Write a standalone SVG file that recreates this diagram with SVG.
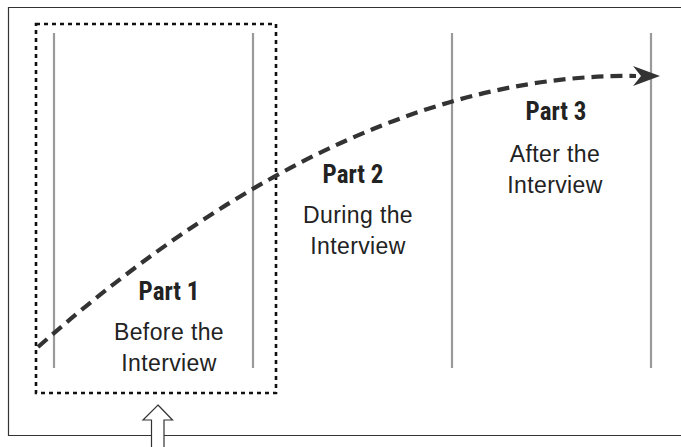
<svg xmlns="http://www.w3.org/2000/svg" width="681" height="447" viewBox="0 0 681 447">
<defs>
<style>
.frame{fill:none;stroke:#333;stroke-width:1.2}
.sel{fill:none;stroke:#111;stroke-width:2.6;stroke-dasharray:4 4}
.div{stroke:#9a9a9a;stroke-width:2.2}
.flow{fill:none;stroke:#333;stroke-width:4.2;stroke-dasharray:12 7}
.title{font-family:"Liberation Sans Narrow","Roboto Condensed","Liberation Sans",sans-serif;font-weight:bold;font-size:25px;fill:#222;text-anchor:middle}
.body{font-family:"Liberation Sans",Arial,sans-serif;font-size:23px;letter-spacing:0.4px;fill:#222;text-anchor:middle}
</style>
</defs>
<rect width="681" height="447" fill="#fff"/>
<path class="frame" d="M690,7.5 H8.5 V435.5 H690"/>
<g id="dividers">
<line class="div" x1="54" y1="33" x2="54" y2="368"/>
<line class="div" x1="253" y1="33" x2="253" y2="368"/>
<line class="div" x1="452" y1="33" x2="452" y2="368"/>
<line class="div" x1="651" y1="33" x2="651" y2="368"/>
</g>
<g id="selection">
<rect class="sel" x="36" y="24" width="240" height="369"/>
</g>
<g id="connectors">
<path class="flow" d="M38,347 Q350,72 636,76"/>
<path d="M633,66 L660,76 L633,86 L641,76 Z" fill="#333"/>
</g>
<g id="part1">
<text class="title" x="169" y="300">Part 1</text>
<text class="body" x="169" y="340">Before the</text>
<text class="body" x="169" y="371">Interview</text>
</g>
<g id="part2">
<text class="title" x="353" y="183">Part 2</text>
<text class="body" x="358" y="223">During the</text>
<text class="body" x="358" y="254">Interview</text>
</g>
<g id="part3">
<text class="title" x="556" y="120">Part 3</text>
<text class="body" x="555" y="162">After the</text>
<text class="body" x="555" y="193">Interview</text>
</g>
<g id="pointer">
<path d="M158,405 L172.5,420 L164,420 L164,448 L151.5,448 L151.5,420 L143,420 Z" fill="#fff" stroke="#333" stroke-width="1.2"/>
</g>
</svg>
